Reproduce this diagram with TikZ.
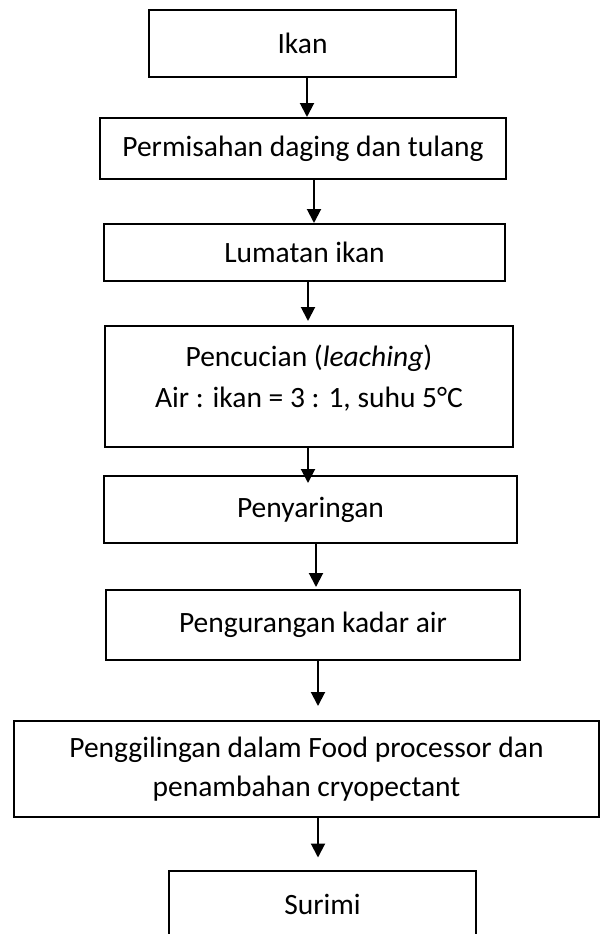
\documentclass[tikz,border=0pt]{standalone}
\usepackage{fontspec}
\setmainfont{Carlito}
\usetikzlibrary{positioning}
\usetikzlibrary{arrows.meta}

\begin{document}
\begin{tikzpicture}[x=1pt,y=1pt,on grid,
    box/.style={draw, line width=2pt, align=center, inner sep=0pt,
                font=\fontsize{29.5}{41}\selectfont},
    flow/.style={-{Triangle[width=14pt,length=14pt]}, line width=2pt}]
      % \draw[help lines] (0,0) grid (600,-934);
    \useasboundingbox (0,0) rectangle (600,-934);

    \node[box, minimum width=307pt, minimum height=67pt]                                       (ikan)   at (302.5,-43.5) {Ikan};
    \node[box, minimum width=406pt, minimum height=61pt, below=105pt of ikan, xshift=0.5pt]    (pisah)  {Permisahan daging dan tulang};
    \node[box, minimum width=401pt, minimum height=57pt, below=104pt of pisah, xshift=1.5pt]   (lumat)  {Lumatan ikan};
    \node[box, minimum width=408pt, minimum height=121pt, below=134pt of lumat, xshift=4.5pt]  (cuci)   {Pencucian (\textit{leaching})\\Air : ikan = 3 : 1, suhu 5°C\\[-20pt]~};
    \node[box, minimum width=413pt, minimum height=67pt, below=123pt of cuci, xshift=1.5pt]    (saring) {Penyaringan};
    \node[box, minimum width=414pt, minimum height=70pt, below=115.5pt of saring, xshift=2.5pt] (kurang) {Pengurangan kadar air};
    \node[box, minimum width=585pt, minimum height=96pt, below=144pt of kurang, xshift=-6.5pt] (giling) {Penggilingan dalam Food processor dan\\[-2pt]penambahan cryopectant};
    \node[box, minimum width=307pt, minimum height=67pt, below=135pt of giling, xshift=16pt]   (surimi) {Surimi};

    \foreach \a/\b/\dx/\gap in {ikan/pisah/4.5/0, pisah/lumat/11/0, lumat/cuci/3.5/4,
                                cuci/saring/-1/-8, saring/kurang/5.5/2,
                                kurang/giling/5/14, giling/surimi/11.5/12}
      \draw[flow, shorten >=\gap pt] ([xshift=\dx pt]\a.south) -- ([xshift=\dx pt]\a.south |- \b.north);
  \end{tikzpicture}
\end{document}
